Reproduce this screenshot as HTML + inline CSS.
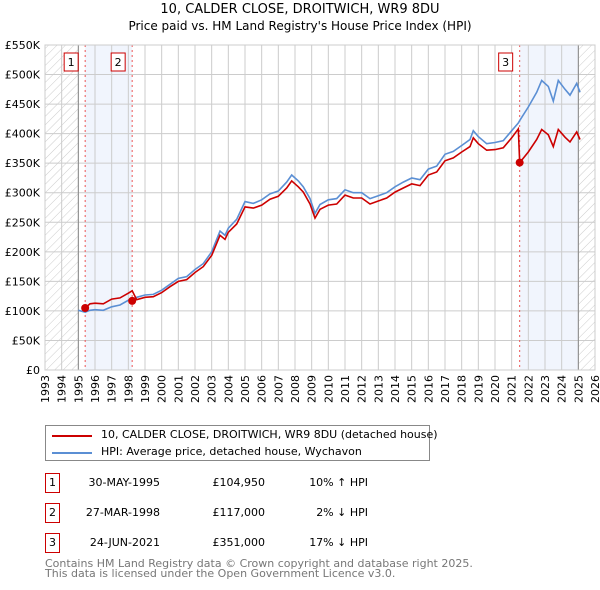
<!DOCTYPE html>
<html><head><meta charset="utf-8"><style>
body{margin:0;width:600px;height:590px;background:#fff;font-family:"DejaVu Sans","Liberation Sans",sans-serif;overflow:hidden;position:relative}
.t{position:absolute;font-size:11px;color:#000;white-space:nowrap}
.box{position:absolute;width:13px;height:18px;border:1px solid #c00;font-size:11px;text-align:center;line-height:18px;box-sizing:border-box;width:15px;height:20px;line-height:18px}
</style></head><body>
<div class="t" style="left:0;width:600px;text-align:center;top:2px;font-size:13px">10, CALDER CLOSE, DROITWICH, WR9 8DU</div>
<div class="t" style="left:0;width:600px;text-align:center;top:19px;font-size:12px">Price paid vs. HM Land Registry's House Price Index (HPI)</div>
<svg id="chart" width="600" height="420" style="position:absolute;left:0;top:0">
<defs><pattern id="hatch" width="6" height="6" patternUnits="userSpaceOnUse" patternTransform="rotate(45)"><line x1="0" y1="0" x2="0" y2="6" stroke="#ccc" stroke-width="1"/></pattern></defs>
<g id="g"></g>
</svg>
<div style="position:absolute;left:45px;top:425px;width:385px;height:36px;border:1px solid #888;box-sizing:border-box">
<div style="position:absolute;left:6px;top:9px;width:40px;height:2px;background:#c00"></div>
<div class="t" style="left:55px;top:2px">10, CALDER CLOSE, DROITWICH, WR9 8DU (detached house)</div>
<div style="position:absolute;left:6px;top:26px;width:40px;height:2px;background:#5b8fd4"></div>
<div class="t" style="left:55px;top:19px">HPI: Average price, detached house, Wychavon</div>
</div>
<div id="tbl"></div>
<div class="t" style="left:45px;top:559px;color:#777;line-height:10px">Contains HM Land Registry data © Crown copyright and database right 2025.<br>This data is licensed under the Open Government Licence v3.0.</div>
<script>
const years=[1995.0,1995.41,1995.7,1996.0,1996.5,1997.0,1997.5,1998.0,1998.23,1998.5,1999.0,1999.5,2000.0,2000.5,2001.0,2001.5,2002.0,2002.5,2003.0,2003.5,2003.8,2004.0,2004.5,2005.0,2005.5,2006.0,2006.5,2007.0,2007.5,2007.8,2008.2,2008.5,2008.9,2009.2,2009.5,2010.0,2010.5,2011.0,2011.5,2012.0,2012.5,2013.0,2013.5,2014.0,2014.5,2015.0,2015.5,2016.0,2016.5,2017.0,2017.5,2018.0,2018.5,2018.7,2019.0,2019.5,2020.0,2020.5,2021.0,2021.4,2021.48,2022.0,2022.5,2022.8,2023.2,2023.5,2023.8,2024.2,2024.5,2024.9,2025.1];
const hpiValues=[101,98,101,102,101,107,110,118,120,123,127,128,135,145,155,158,170,180,200,235,228,240,255,285,282,288,298,303,318,330,320,310,290,265,280,288,290,305,300,300,290,295,300,310,318,325,322,340,345,365,370,380,390,405,395,383,385,388,405,418,422,445,470,490,480,455,490,475,465,485,470];
const priceValues=[null,105,112,113,112,120,122,130,134,119,123,124,131,141,150,153,165,175,194,228,221,233,247,276,274,279,289,294,308,320,310,301,281,257,272,279,281,296,291,291,281,286,291,301,308,315,312,330,335,354,359,369,378,393,383,372,373,376,393,408,351,369,390,407,398,378,407,394,386,403,390];
const sales=[{n:"1",t:1995.41,v:104.95,d:"30-MAY-1995",p:"£104,950",h:"10% ↑ HPI"},{n:"2",t:1998.23,v:117,d:"27-MAR-1998",p:"£117,000",h:"2% ↓ HPI"},{n:"3",t:2021.48,v:351,d:"24-JUN-2021",p:"£351,000",h:"17% ↓ HPI"}];
const yTicks=[0,50,100,150,200,250,300,350,400,450,500,550];
const yLabels=["£0","£50K","£100K","£150K","£200K","£250K","£300K","£350K","£400K","£450K","£500K","£550K"];
const X=t=>45+(t-1993)*550/33, Y=v=>370-v*325/550;
const NS="http://www.w3.org/2000/svg",g=document.getElementById('g');
function mk(tag,a,name,txt){const e=document.createElementNS(NS,tag);for(const k in a)e.setAttribute(k,a[k]);


if(txt!==undefined)e.textContent=txt;g.appendChild(e);return e;}
mk('rect',{x:45,y:45,width:550,height:325,fill:'#fff'},'plot-bg');
mk('rect',{x:X(1995.41),y:45,width:X(1998.23)-X(1995.41),height:325,fill:'#eef3fc',opacity:0.8},'shade-1-2');
mk('rect',{x:X(2021.48),y:45,width:X(2025)-X(2021.48),height:325,fill:'#eef3fc',opacity:0.8},'shade-3');
mk('rect',{x:45,y:45,width:X(1995)-45,height:325,fill:'url(#hatch)'},'hatch-left');
mk('rect',{x:X(2025),y:45,width:595-X(2025),height:325,fill:'url(#hatch)'},'hatch-right');
for(let yr=1993;yr<=2026;yr++){mk('line',{x1:X(yr),x2:X(yr),y1:45,y2:370,stroke:'#ccc'},'grid-x');
mk('text',{x:0,y:0,transform:`translate(${X(yr)+4},${375}) rotate(-90)`,'text-anchor':'end','font-size':11,fill:'#000'},'x-tick-label',String(yr));}
yTicks.forEach((v,i)=>{mk('line',{x1:45,x2:595,y1:Y(v),y2:Y(v),stroke:'#ccc'},'grid-y');
mk('text',{x:40,y:Y(v)+4,'text-anchor':'end','font-size':11},'y-tick-label',yLabels[i]);});
mk('line',{x1:X(1995),x2:X(1995),y1:45,y2:370,stroke:'#888'},'data-start');
mk('line',{x1:X(2025),x2:X(2025),y1:45,y2:370,stroke:'#888'},'data-end');
sales.forEach(s=>{mk('line',{x1:X(s.t),x2:X(s.t),y1:45,y2:370,stroke:'#e55','stroke-dasharray':'2,3'},'sale-line');});
let hp='';years.forEach((t,i)=>hp+=(i?'L':'M')+X(t).toFixed(1)+','+Y(hpiValues[i]).toFixed(1));
mk('path',{d:hp,fill:'none',stroke:'#5b8fd4','stroke-width':1.6},'hpi-line');
let rp='',f=true;years.forEach((t,i)=>{if(priceValues[i]==null)return;rp+=(f?'M':'L')+X(t).toFixed(1)+','+Y(priceValues[i]).toFixed(1);f=false;});
mk('path',{d:rp,fill:'none',stroke:'#c00','stroke-width':1.6},'price-line');
sales.forEach(s=>{mk('circle',{cx:X(s.t),cy:Y(s.v),r:4,fill:'#c00'},'sale-point');
const bx=X(s.t)-14;mk('rect',{x:bx-7,y:53,width:14,height:18,fill:'#fff',stroke:'#c00'},'sale-marker-box');
mk('text',{x:bx,y:66,'text-anchor':'middle','font-size':11},'sale-marker-label',s.n);});
mk('rect',{x:45,y:45,width:550,height:325,fill:'none',stroke:'#ccc'},'plot-border');
const tbl=document.getElementById('tbl');
sales.forEach((s,i)=>{const top=473+i*30;
const r=document.createElement('div');
r.innerHTML=`<div class="box" style="left:45px;top:${top}px">${s.n}</div>
<div class="t" style="left:60px;width:100px;text-align:right;top:${top+3}px">${s.d}</div>
<div class="t" style="left:170px;width:95px;text-align:right;top:${top+3}px">${s.p}</div>
<div class="t" style="left:270px;width:98px;text-align:right;top:${top+3}px">${s.h}</div>`;
tbl.appendChild(r);});
</script>
</body></html>
